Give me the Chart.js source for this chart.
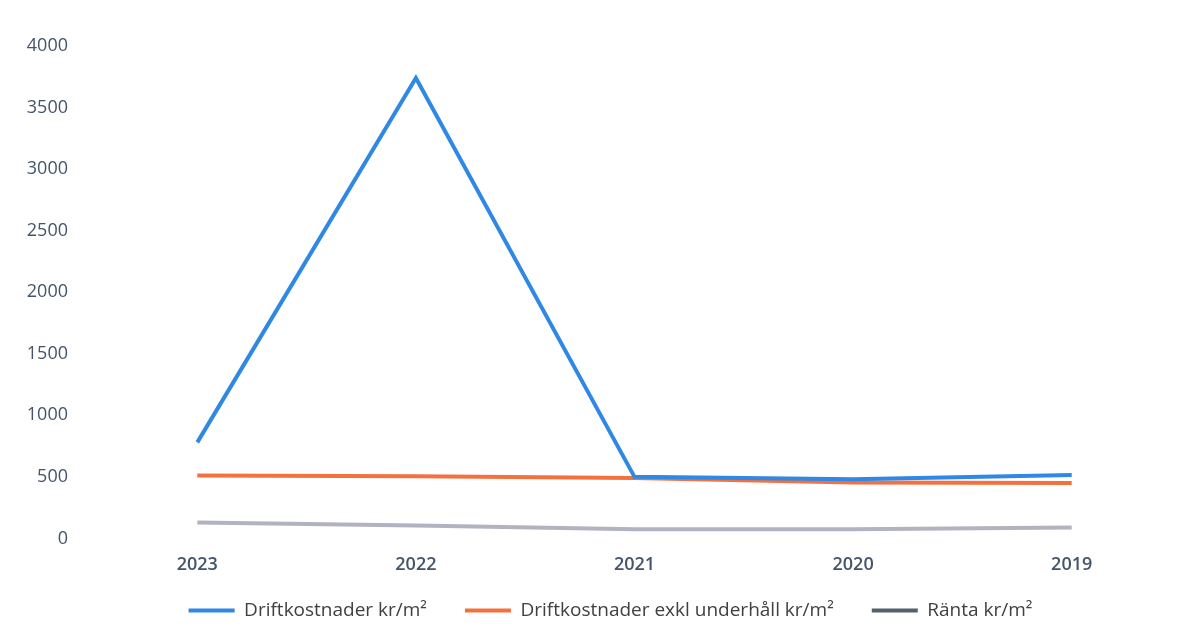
<!DOCTYPE html>
<html>
<head>
<meta charset="utf-8">
<script src="https://cdn.jsdelivr.net/npm/chart.js@4/dist/chart.umd.min.js"></script>
<style>
    html, body { margin: 0; padding: 0; background: #fff; }
    #wrap { width: 1197px; height: 643px; }
</style>
</head>
<body>
<div id="wrap"><canvas id="chart"></canvas></div>
<script>
// years, newest first as in the original
const years = ["2023", "2022", "2021", "2020", "2019"];

const drift = [780, 3740, 500, 480, 515];
const driftExkl = [510, 505, 490, 455, 450];
const ranta = [130, 105, 75, 75, 88];

const seriesNames = ["Driftkostnader kr/m²", "Driftkostnader exkl underhåll kr/m²", "Ränta kr/m²"];
const lineColors = ["#2F88E6", "#F4703F", "#B2B3C2"];
const legendColors = ["#2F88E6", "#F4703F", "#56616D"];

const yTicks = [0, 500, 1000, 1500, 2000, 2500, 3000, 3500, 4000];

// legend sits a bit closer to the axis labels (and a bit more right) than chart.js does by itself
const legendCut = 9;
const tightLegend = {
    id: "tightLegend",
    beforeInit: function (chart) {
        const origFit = chart.legend.fit;
        chart.legend.fit = function () {
            origFit.call(this);
            this.height -= legendCut;
        };
    },
    afterLayout: function (chart) {
        chart.legend.top -= legendCut;
        chart.legend.left += 20;
        chart.legend.right += 20;
    }
};

const ctx = document.getElementById("chart").getContext("2d");
const chart = new Chart(ctx, {
    type: "line",
    data: {
        labels: years,
        datasets: [drift, driftExkl, ranta].map(function (values, i) {
            return {
                label: seriesNames[i],
                data: values,
                borderColor: lineColors[i],
                backgroundColor: lineColors[i],
                borderWidth: 4,
                pointRadius: 0,
                tension: 0
            };
        })
    },
    options: {
        responsive: true,
        maintainAspectRatio: false,
        animation: false,
        layout: {
            padding: { top: 46, right: 16, left: 0, bottom: 13 }
        },
        scales: {
            x: {
                offset: true,
                grid: { display: false, drawTicks: false },
                border: { display: false },
                ticks: {
                    padding: 16,
                    color: "#44546A",
                    font: { family: "Open Sans", size: 18, weight: "600" }
                },
                afterFit: function (axis) {
                    axis.height -= 20;
                }
            },
            y: {
                min: 0,
                max: 4000,
                afterBuildTicks: function (axis) {
                    axis.ticks = yTicks.map(function (v) { return { value: v }; });
                },
                afterFit: function (axis) {
                    axis.width = 88;
                },
                grid: { display: false, drawTicks: false },
                border: { display: false },
                ticks: {
                    padding: 20,
                    color: "#44546A",
                    font: { family: "Open Sans", size: 18 },
                    callback: function (v) { return String(v); }
                }
            }
        },
        plugins: {
            tooltip: { enabled: false },
            legend: {
                position: "bottom",
                labels: {
                    boxWidth: 46,
                    boxHeight: 4,
                    padding: 38,
                    color: "#404040",
                    font: { family: "Open Sans", size: 19 },
                    generateLabels: function (c) {
                        const items = Chart.defaults.plugins.legend.labels.generateLabels(c);
                        items.forEach(function (item, i) {
                            item.fillStyle = legendColors[i];
                            item.strokeStyle = legendColors[i];
                            item.lineWidth = 0;
                        });
                        return items;
                    }
                }
            }
        }
    },
    plugins: [tightLegend]
});
</script>
</body>
</html>
